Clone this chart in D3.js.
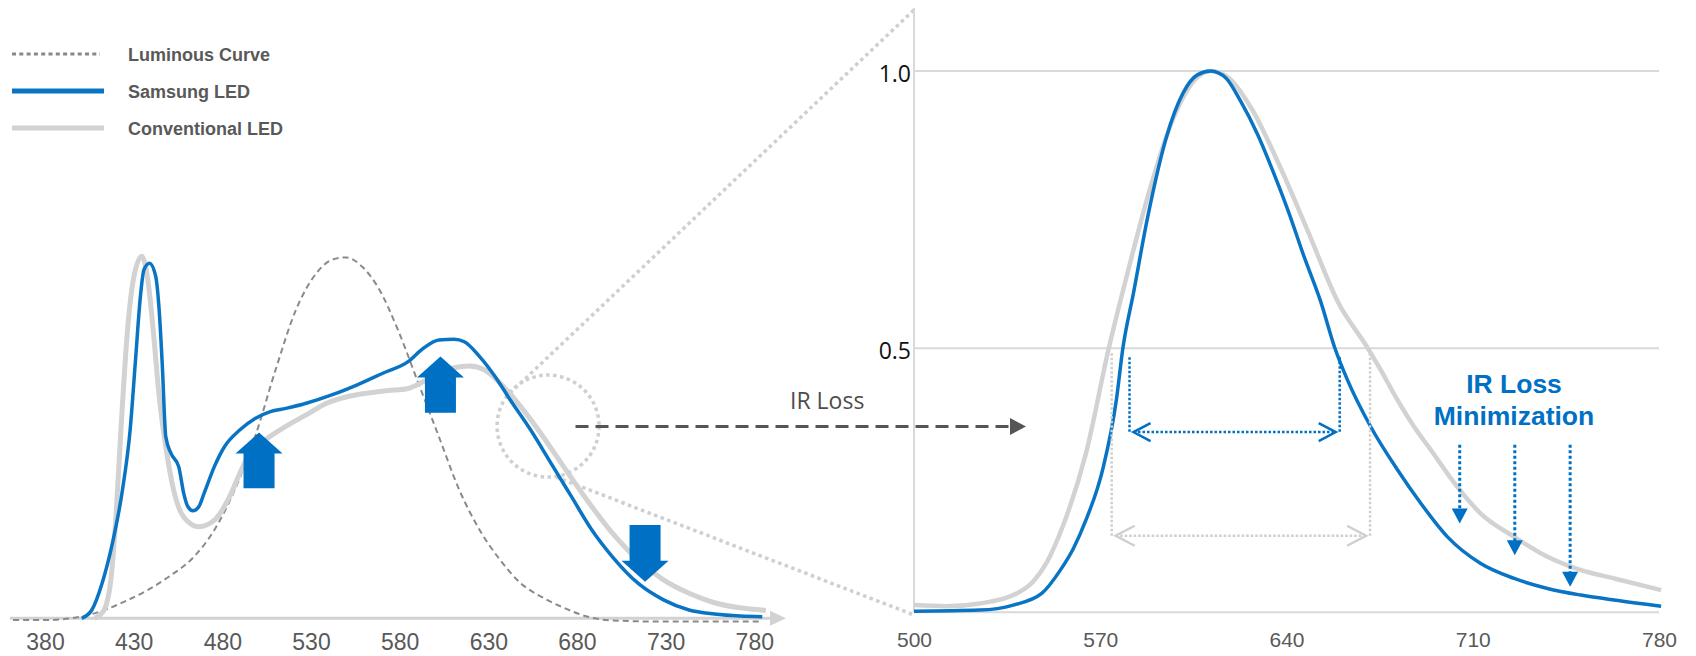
<!DOCTYPE html>
<html><head><meta charset="utf-8">
<script src="https://cdn.jsdelivr.net/npm/d3@7"></script>
<style>body{margin:0;background:#fff;} svg{display:block}</style>
</head><body>
<svg id="chart" width="1696" height="656"></svg>
<script>
// ---------- DATA ----------
const leftTicks = [380, 430, 480, 530, 580, 630, 680, 730, 780];
const rightTicks = [500, 570, 640, 710, 780];
const rightYTicks = [0.5, 1.0];
const legendLabels = ["Luminous Curve", "Samsung LED", "Conventional LED"];

// left panel: [wavelength nm, relative intensity]
const leftLuminous = [[362,-0.005],[380,-0.005],[400.7,0.005],[426.6,0.05],[449.6,0.114],[464,0.17],[475.5,0.244],[487,0.355],[498.5,0.502],[510,0.686],[521.5,0.852],[533,0.953],[541.7,0.99],[549.7,0.997],[558.9,0.971],[567.6,0.916],[579.1,0.796],[590.6,0.649],[602.1,0.502],[613.6,0.355],[625.1,0.244],[636.7,0.161],[648.2,0.097],[659.7,0.06],[671.2,0.032],[685.6,0.005],[700,-0.006],[728.8,-0.009],[783.4,-0.009]];
const leftSamsung = [[400.7,0],[406.4,0.023],[412.2,0.097],[418,0.207],[423.7,0.355],[428,0.52],[430.9,0.704],[433.8,0.889],[435.8,0.963],[439,0.981],[442.4,0.945],[444.5,0.843],[446.1,0.704],[448.1,0.502],[451,0.456],[455.4,0.419],[458.2,0.346],[460.5,0.309],[463.4,0.297],[466.8,0.309],[469.7,0.345],[475.5,0.419],[481.2,0.474],[489.8,0.52],[498.5,0.552],[507.1,0.571],[515.8,0.58],[527.3,0.594],[541.7,0.617],[556.1,0.645],[570.5,0.677],[584.8,0.709],[593.4,0.746],[602.1,0.769],[610.7,0.771],[616.5,0.764],[625.1,0.723],[633.8,0.668],[642.4,0.603],[653.9,0.52],[665.4,0.428],[676.9,0.336],[688.4,0.244],[700,0.17],[714.4,0.097],[728.8,0.051],[743.2,0.023],[757.5,0.012],[771.9,0.0064],[784.5,0.0046]];
const leftConventional = [[408,0],[413,0.02],[417,0.1],[420,0.28],[422.8,0.52],[426.6,0.8],[430,0.94],[434.6,1.0],[438,0.935],[441,0.797],[444.4,0.612],[448.1,0.474],[452.5,0.355],[458.2,0.28],[466.8,0.253],[475.5,0.271],[484.1,0.336],[489.8,0.4],[495.6,0.456],[504.3,0.493],[515.8,0.53],[527.3,0.562],[538.8,0.594],[550.3,0.612],[561.8,0.622],[573.3,0.629],[584.8,0.635],[593.4,0.654],[602.1,0.677],[610.7,0.692],[619.4,0.697],[628,0.686],[636.7,0.649],[645.3,0.603],[656.8,0.53],[671.2,0.428],[685.6,0.327],[700,0.235],[714.4,0.161],[728.8,0.106],[743.2,0.069],[757.5,0.043],[771.9,0.029],[786.5,0.022]];
// left block arrows: [center wavelength, from value, to value]
const leftBlockArrows = [[500.7,0.359,0.513],[603,0.568,0.723],[718.4,0.258,0.101]];
const zoomCircle = [663.7, 0.531];

// right panel (zoomed red peak)
const rightSamsung = [[500,0.026],[524.8,0.028],[537.3,0.037],[548,0.058],[555,0.1],[560,0.14],[564.6,0.19],[571.1,0.285],[576,0.405],[578.5,0.5],[582.5,0.6],[587.8,0.736],[594.7,0.878],[601.2,0.961],[606.5,0.993],[611.5,1.0],[617.3,0.987],[622.7,0.946],[629.1,0.886],[635.6,0.811],[641,0.743],[646.4,0.668],[652.8,0.585],[658.2,0.5],[662.9,0.443],[671.6,0.359],[681.7,0.281],[690.4,0.221],[700.5,0.16],[713,0.112],[725.6,0.085],[738.1,0.067],[750.7,0.055],[763.1,0.046],[780.8,0.035]];
const rightConventional = [[500,0.037],[512,0.035],[524.8,0.04],[537.3,0.055],[544.9,0.08],[550,0.115],[556,0.18],[564.6,0.31],[573.2,0.5],[580.8,0.646],[588.3,0.781],[596.9,0.908],[605.5,0.984],[611.5,1.0],[618.4,0.987],[627,0.931],[637.7,0.826],[648.5,0.706],[659.2,0.585],[670.6,0.5],[675.4,0.461],[681.7,0.407],[687.9,0.359],[694.2,0.317],[704.2,0.25],[713,0.202],[725.6,0.16],[738.1,0.124],[750.7,0.1],[763.2,0.085],[780.8,0.064]];
// FWHM markers: [left wl, right wl, top value, arrow value]
const fwhmSamsung = [581, 660, 0.484, 0.349];
const fwhmConventional = [574.3, 671.4, 0.491, 0.162];
// IR-loss arrows: [wavelength, start value, tip value]
const irArrows = [[705.1,0.326,0.184],[725.8,0.326,0.127],[746.6,0.326,0.07]];
const rightBaseValue = 0.024;

// ---------- DRAW ----------
const BLUE = "#0a74c4", ABLUE = "#0070c4", GREY = "#d2d2d2";
const svg = d3.select("#chart");
const xL = d3.scaleLinear().domain([380, 780]).range([45, 754.3]);
const yL = d3.scaleLinear().domain([0, 1]).range([618.3, 256.3]);
const xR = d3.scaleLinear().domain([500, 780]).range([914, 1659]);
const yR = d3.scaleLinear().domain([0.5, 1]).range([348.3, 71]);

const lineL = d3.line().x(d => xL(d[0])).y(d => yL(d[1])).curve(d3.curveMonotoneX);
const lineR = d3.line().x(d => xR(d[0])).y(d => yR(d[1])).curve(d3.curveMonotoneX);

// legend
const legY = [54, 91, 128];
svg.append("line").attr("x1", 12).attr("x2", 100).attr("y1", legY[0]).attr("y2", legY[0])
  .attr("stroke", "#888").attr("stroke-width", 3).attr("stroke-dasharray", "4,3.3");
svg.append("line").attr("x1", 12).attr("x2", 104).attr("y1", legY[1]).attr("y2", legY[1])
  .attr("stroke", BLUE).attr("stroke-width", 5);
svg.append("line").attr("x1", 12).attr("x2", 104).attr("y1", legY[2]).attr("y2", legY[2])
  .attr("stroke", GREY).attr("stroke-width", 5);
svg.selectAll("text.leg").data(legendLabels).join("text").attr("class", "leg")
  .attr("x", 128).attr("y", (d, i) => legY[i] + 7)
  .attr("font-family", "Liberation Sans, Arial, sans-serif").attr("font-weight", "bold")
  .attr("font-size", 18).attr("fill", "#595959").text(d => d);

// left axis
const y0L = yL(0);
svg.append("line").attr("x1", 10).attr("x2", 772).attr("y1", y0L).attr("y2", y0L)
  .attr("stroke", GREY).attr("stroke-width", 3);
svg.append("path").attr("d", `M770,${y0L-7.5}L786,${y0L}L770,${y0L+7.5}Z`).attr("fill", GREY);
const axL = svg.append("g").attr("transform", `translate(0,${y0L})`)
  .call(d3.axisBottom(xL).tickValues(leftTicks).tickSize(0).tickFormat(d3.format("d")));
axL.select(".domain").remove();
axL.selectAll("text").attr("y", 650 - y0L).attr("dy", null)
  .attr("font-family", "Liberation Sans Narrow, Arial Narrow, Liberation Sans, sans-serif")
  .attr("font-size", 23).attr("fill", "#595959");

// zoom connectors & circle
const cx = xL(zoomCircle[0]), cy = yL(zoomCircle[1]);
const dotted = {stroke: "#cfcfcf", "stroke-width": 3.5, "stroke-dasharray": "3.5,3.5", fill: "none"};
function applyAttrs(sel, a){ Object.entries(a).forEach(([k,v]) => sel.attr(k, v)); return sel; }
applyAttrs(svg.append("circle").attr("cx", cx).attr("cy", cy).attr("r", 51), dotted);
applyAttrs(svg.append("line").attr("x1", cx - 38).attr("y1", cy - 33).attr("x2", xR(500) + 2).attr("y2", 8), dotted);
applyAttrs(svg.append("line").attr("x1", cx + 8).attr("y1", cy + 51).attr("x2", xR(500)).attr("y2", 615), dotted);

// left curves
svg.append("path").attr("d", lineL(leftLuminous)).attr("fill", "none").attr("stroke", "#8a8a8a")
  .attr("stroke-width", 2).attr("stroke-dasharray", "6,4");
svg.append("path").attr("d", lineL(leftConventional)).attr("fill", "none").attr("stroke", GREY)
  .attr("stroke-width", 5).attr("stroke-linejoin", "round");
svg.append("path").attr("d", lineL(leftSamsung)).attr("fill", "none").attr("stroke", BLUE)
  .attr("stroke-width", 3.5).attr("stroke-linejoin", "round");

// left block arrows
leftBlockArrows.forEach(([wl, v0, v1]) => {
  const x = xL(wl), ya = yL(v0), yb = yL(v1);
  const dir = yb < ya ? -1 : 1; // -1 up
  const head = 21, sw = 15.5, hw = 23.5;
  const yh = yb - dir * head;
  svg.append("path").attr("fill", ABLUE).attr("d",
    `M${x-sw},${ya}L${x-sw},${yh}L${x-hw},${yh}L${x},${yb}L${x+hw},${yh}L${x+sw},${yh}L${x+sw},${ya}Z`);
});

// IR Loss dashed arrow
svg.append("text").attr("x", 790).attr("y", 409).attr("font-family", "Open Sans, sans-serif")
  .attr("font-size", 23).attr("fill", "#4d4d4d").text("IR Loss");
svg.append("line").attr("x1", 575.5).attr("x2", 1011).attr("y1", 426.5).attr("y2", 426.5)
  .attr("stroke", "#555").attr("stroke-width", 3).attr("stroke-dasharray", "13,7");
svg.append("path").attr("d", "M1010,418L1026,426.5L1010,435Z").attr("fill", "#555");

// right axes & grid
const y0R = yR(rightBaseValue);
svg.append("line").attr("x1", xR(500)).attr("x2", xR(500)).attr("y1", 8).attr("y2", y0R)
  .attr("stroke", "#d9d9d9").attr("stroke-width", 2);
svg.selectAll("line.grid").data(rightYTicks).join("line").attr("class", "grid")
  .attr("x1", xR(500)).attr("x2", xR(780)).attr("y1", d => yR(d)).attr("y2", d => yR(d))
  .attr("stroke", "#d9d9d9").attr("stroke-width", 2);
svg.append("line").attr("x1", xR(500)).attr("x2", xR(780)).attr("y1", y0R).attr("y2", y0R)
  .attr("stroke", "#d9d9d9").attr("stroke-width", 2);
const axRy = svg.append("g").attr("transform", `translate(${xR(500)},0)`)
  .call(d3.axisLeft(yR).tickValues(rightYTicks).tickSize(0).tickPadding(3).tickFormat(d3.format(".1f")));
axRy.select(".domain").remove();
axRy.selectAll("text").attr("dy", "0.45em").attr("font-family", "Open Sans, sans-serif")
  .attr("font-size", 23).attr("fill", "#111");
const axRx = svg.append("g").attr("transform", `translate(0,${y0R})`)
  .call(d3.axisBottom(xR).tickValues(rightTicks).tickSize(0).tickFormat(d3.format("d")));
axRx.select(".domain").remove();
axRx.selectAll("text").attr("y", 646.7 - y0R).attr("dy", null)
  .attr("font-family", "Liberation Sans, Arial, sans-serif")
  .attr("font-size", 21).attr("fill", "#595959");

// right curves
svg.append("path").attr("d", lineR(rightConventional)).attr("fill", "none").attr("stroke", GREY)
  .attr("stroke-width", 4.5);
svg.append("path").attr("d", lineR(rightSamsung)).attr("fill", "none").attr("stroke", BLUE)
  .attr("stroke-width", 3.5);

// FWHM markers
function fwhm(spec, color, dash, len, half) {
  const [a, b, vt, va] = spec;
  const xa = xR(a), xb = xR(b), yt = yR(vt), ya = yR(va);
  [xa, xb].forEach(x => svg.append("line").attr("x1", x).attr("x2", x).attr("y1", yt).attr("y2", ya)
    .attr("stroke", color).attr("stroke-width", 2.5).attr("stroke-dasharray", dash));
  svg.append("line").attr("x1", xa + 4).attr("x2", xb - 4).attr("y1", ya).attr("y2", ya)
    .attr("stroke", color).attr("stroke-width", 2.5).attr("stroke-dasharray", dash);
  svg.append("path").attr("fill", "none").attr("stroke", color).attr("stroke-width", 2.5)
    .attr("d", `M${xa+4+len},${ya-half}L${xa+4},${ya}L${xa+4+len},${ya+half}M${xb-4-len},${ya-half}L${xb-4},${ya}L${xb-4-len},${ya+half}`);
}
fwhm(fwhmConventional, "#cfcfcf", "2.5,2", 19, 10);
fwhm(fwhmSamsung, ABLUE, "2.5,2", 17, 9);

// IR loss minimization
svg.append("text").attr("x", 1514).attr("y", 393).attr("text-anchor", "middle")
  .attr("font-family", "Liberation Sans, Arial, sans-serif").attr("font-weight", "bold")
  .attr("font-size", 26.5).attr("fill", ABLUE).text("IR Loss");
svg.append("text").attr("x", 1514).attr("y", 425).attr("text-anchor", "middle")
  .attr("font-family", "Liberation Sans, Arial, sans-serif").attr("font-weight", "bold")
  .attr("font-size", 26.5).attr("fill", ABLUE).text("Minimization");
irArrows.forEach(([wl, v0, v1]) => {
  const x = xR(wl), ya = yR(v0), yb = yR(v1);
  svg.append("line").attr("x1", x).attr("x2", x).attr("y1", ya).attr("y2", yb - 14)
    .attr("stroke", ABLUE).attr("stroke-width", 3).attr("stroke-dasharray", "3,2.5");
  svg.append("path").attr("fill", ABLUE).attr("d", `M${x-8},${yb-15}L${x+8},${yb-15}L${x},${yb}Z`);
});
</script>
</body></html>
